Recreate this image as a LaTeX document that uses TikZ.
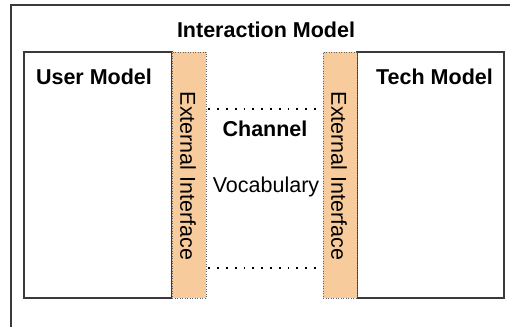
\documentclass[tikz,border=0pt]{standalone}
\usepackage{fontspec}
\setmainfont{Liberation Sans}
\definecolor{frame}{HTML}{3A3A3A}
\definecolor{ifacefill}{HTML}{F8CB9C}
\begin{document}
\begin{tikzpicture}[x=1pt,y=-1pt,
  model/.style={draw=frame, line width=1.1pt, fill=white, inner sep=0pt},
  iface/.style={draw=frame!80, line width=0.7pt, dash pattern=on 0.7pt off 1.8pt,
                fill=ifacefill, inner sep=0pt},
  bigtxt/.style={font=\fontsize{21.5}{25}\selectfont\bfseries, inner sep=0pt},
  txt/.style={font=\fontsize{21.5}{25}\selectfont, inner sep=0pt},
  link/.style={line width=1.8pt, dash pattern=on 1.8pt off 7pt}]
\useasboundingbox (0,0) rectangle (510,327);

% outer frame of the interaction model (runs off the page right and bottom)
\coordinate (fbl) at (11,327);
\coordinate (ftl) at (11,5);
\coordinate (ftr) at (510,5);
\draw[frame, line width=1.1pt] (fbl) -- (ftl) -- (ftr);
\node[bigtxt] (title) at (266,30) {Interaction Model};

% user and tech model boxes
\draw[model] (24,52) rectangle (172,298);
\draw[model] (357,52) rectangle (504,298);
\node[bigtxt] (user) at (94,77) {User Model};
\node[bigtxt] (tech) at (434.5,77) {Tech Model};

% external interface strips
\node[iface, minimum width=34pt, minimum height=246pt] (ifl) at (189,175) {};
\node[iface, minimum width=34pt, minimum height=246pt] (ifr) at (340,175) {};
\node[txt, rotate=-90] (ifltxt) at (188,176) {External Interface};
\node[txt, rotate=-90] (ifrtxt) at (339,176) {External Interface};

% channel between the interfaces
\coordinate (ytop) at (0,109);
\coordinate (ybot) at (0,268);
\draw[link] ([xshift=2pt]ifl.east |- ytop) -- (ifr.west |- ytop);
\draw[link] ([xshift=2pt]ifl.east |- ybot) -- (ifr.west |- ybot);
\node[bigtxt] (channel) at (265,129) {Channel};
\node[txt] (vocab) at (266,187) {Vocabulary};
\end{tikzpicture}
\end{document}
